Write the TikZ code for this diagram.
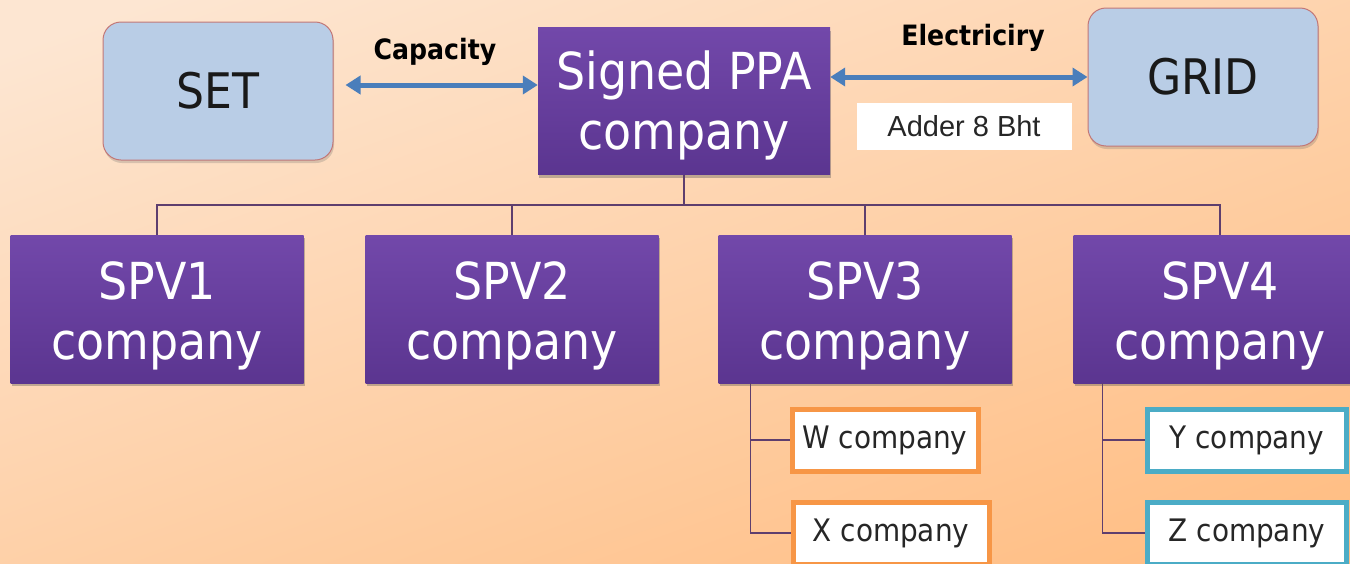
\documentclass[tikz,border=0pt]{standalone}
\usepackage{fontspec}
\setmainfont{DejaVu Sans Condensed}
\newfontfamily\arialfont{Liberation Sans}
\usetikzlibrary{arrows.meta,shadows}
\definecolor{bgtop}{HTML}{FDE6D2}
\definecolor{bgbot}{HTML}{FFBE84}
\definecolor{ppatop}{HTML}{7248AA}
\definecolor{ppabot}{HTML}{5B3590}
\definecolor{paleblue}{HTML}{B9CDE6}
\definecolor{pinkedge}{HTML}{C27777}
\definecolor{arrowblue}{HTML}{4A7EBB}
\definecolor{linepurple}{HTML}{5E3E6E}
\definecolor{orangeedge}{HTML}{F79646}
\definecolor{cyanedge}{HTML}{4BACC6}
\tikzset{
  x=1pt, y=-1pt,
  purplebox/.style={rectangle, top color=ppatop, bottom color=ppabot, draw=none,
    minimum width=293pt, minimum height=148pt, inner sep=0pt,
    drop shadow={shadow xshift=1pt, shadow yshift=-3pt, opacity=0.35, fill=black!70}},
  boxtext/.style={text=white, font=\fontsize{51}{60}\selectfont, align=center, inner sep=0pt},
  softbox/.style={rectangle, rounded corners=18pt, fill=paleblue, draw=pinkedge, line width=1pt,
    text=black!90, font=\fontsize{49}{58}\selectfont,
    minimum width=230pt, minimum height=138pt, inner sep=0pt,
    drop shadow={shadow xshift=1pt, shadow yshift=-3pt, opacity=0.25, fill=black!60}},
  subbox/.style={rectangle, fill=white, line width=5pt, text=black!85,
    font=\fontsize{31}{36}\selectfont, minimum height=62pt, inner sep=0pt},
  flowarrow/.style={{Triangle[length=15pt,width=18pt]}-{Triangle[length=15pt,width=18pt]},
    draw=arrowblue, line width=5pt},
  arrowlabel/.style={font=\bfseries\fontsize{28}{32}\selectfont, text=black},
  tree/.style={draw=linepurple, line width=1.2pt}
}
\begin{document}
\begin{tikzpicture}
  % page and background
  \useasboundingbox (0,0) rectangle (1350,563);
  \clip (0,0) rectangle (1350,563);
  \shade[top color=bgtop, bottom color=bgbot, shading angle=20] (-60,-60) rectangle (1410,623);

  % top row
  \node[softbox] (set) at (218,91) {SET};
  \node[purplebox, minimum width=292pt, minimum height=147pt,
        label={[boxtext, yshift=-4pt]center:{Signed PPA\\company}}] (ppa) at (684,101) {};
  \node[softbox] (grid) at (1203,77) {GRID};
  \node[fill=white, minimum width=215pt, minimum height=47pt, inner sep=0pt, text=black!85,
        font=\arialfont\fontsize{29}{32}\selectfont] (adder) at (964,126) {\raisebox{-6pt}{Adder 8 Bht}};

  % flows between the PPA company and its partners
  \draw[flowarrow] (set.east) ++(12,-6) coordinate (capL) -- (ppa.west |- capL) coordinate (capR);
  \node[arrowlabel] (cap) at (435,52) {Capacity};
  \draw[flowarrow] (ppa.east |- 0,77) coordinate (eleL) -- (grid.west |- eleL);
  \node[arrowlabel] (ele) at (973,38) {Electriciry};

  % SPV companies
  \foreach \n/\cx in {1/157,2/512,3/865,4/1220}
    \node[purplebox, label={[boxtext, yshift=-7pt]center:{SPV\n\\company}}] (spv\n) at (\cx,309) {};

  % tree from PPA company to the SPVs
  \coordinate (bus) at (684,205);
  \foreach \s in {spv1,spv2,spv3,spv4}
    \draw[tree] (ppa.south) -- (bus) -| (\s.north);

  % sub companies
  \node[subbox, draw=orangeedge, minimum width=186pt] (w) at (885,440) {W company};
  \node[subbox, draw=orangeedge, minimum width=196pt] (xc) at (891,533) {X company};
  \node[subbox, draw=cyanedge, minimum width=199pt] (y) at (1247,440) {Y company};
  \node[subbox, draw=cyanedge, minimum width=199pt] (z) at (1247,533) {Z company};

  \draw[tree] (spv3.south west) ++(32,0) coordinate (t3) |- (w.west);
  \draw[tree] (t3) |- (xc.west);
  \draw[tree] (spv4.south west) ++(29,0) coordinate (t4) |- (y.west);
  \draw[tree] (t4) |- (z.west);
\end{tikzpicture}
\end{document}
